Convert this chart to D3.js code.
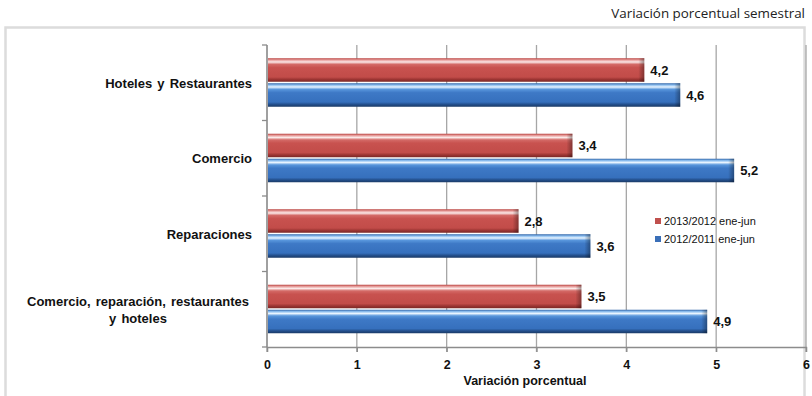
<!DOCTYPE html>
<html>
<head>
<meta charset="utf-8">
<script src="https://cdn.jsdelivr.net/npm/d3@7"></script>
<style>
  html, body { margin: 0; padding: 0; background: #fff; }
  svg { display: block; }
</style>
</head>
<body>
<svg id="chart" width="812" height="396"></svg>
<script>
// Sector categories, top to bottom
const categories = [
  ["Hoteles y Restaurantes"],
  ["Comercio"],
  ["Reparaciones"],
  ["Comercio, reparación, restaurantes", "y hoteles"]
];
const seriesNames = ["2013/2012 ene-jun", "2012/2011 ene-jun"];
const values2013 = [4.2, 3.4, 2.8, 3.5];
const values2012 = [4.6, 5.2, 3.6, 4.9];
const xTicks = [0, 1, 2, 3, 4, 5, 6];

const svg = d3.select("#chart");
const margin = { left: 267, right: 6, top: 45, bottom: 49 };
const W = 812, H = 396;
const FONT = "Arial, 'Liberation Sans', sans-serif";

// Outer frame
svg.append("rect")
  .attr("x", 5.5).attr("y", 27.5).attr("width", 799).attr("height", 380)
  .attr("fill", "none").attr("stroke", "#dcdcdc").attr("stroke-width", 2.5);

svg.append("text")
  .attr("x", 805).attr("y", 18)
  .attr("text-anchor", "end")
  .attr("font-family", "'Open Sans', sans-serif")
  .attr("font-size", 13.4).attr("fill", "#222")
  .text("Variación porcentual semestral");

const x = d3.scaleLinear().domain([0, 6]).range([margin.left, W - margin.right]);
const y = d3.scaleBand().domain(d3.range(categories.length))
  .range([margin.top, H - margin.bottom]).paddingInner(0).paddingOuter(0);

// Gradients giving the bars their bevelled look
const defs = svg.append("defs");
function grad(id, stops) {
  const g = defs.append("linearGradient").attr("id", id)
    .attr("x1", 0).attr("y1", 0).attr("x2", 0).attr("y2", 1);
  stops.forEach(([o, c]) => g.append("stop").attr("offset", o).attr("stop-color", c));
}
grad("gRed", [[0, "#b9413e"], [0.08, "#e9a3a1"], [0.16, "#fbe9e8"], [0.26, "#d46a67"], [0.4, "#c8524f"], [0.8, "#c24c49"], [0.9, "#9c3533"], [1, "#7a2725"]]);
grad("gBlue", [[0, "#2f64a8"], [0.08, "#8fc0f0"], [0.16, "#e8f4ff"], [0.26, "#5896dc"], [0.4, "#3e79c6"], [0.8, "#3670bd"], [0.9, "#234f8c"], [1, "#1a3a66"]]);
const endGrad = defs.append("linearGradient").attr("id", "gEnd")
  .attr("x1", 0).attr("y1", 0).attr("x2", 1).attr("y2", 0);
endGrad.append("stop").attr("offset", 0).attr("stop-color", "#000").attr("stop-opacity", 0);
endGrad.append("stop").attr("offset", 1).attr("stop-color", "#000").attr("stop-opacity", 0.35);

// Vertical gridlines
svg.append("g").selectAll("line").data(xTicks).join("line")
  .attr("x1", d => x(d)).attr("x2", d => x(d))
  .attr("y1", margin.top).attr("y2", H - margin.bottom + 5)
  .attr("stroke", "#a6a6a6").attr("stroke-width", 1.3);

// Category axis with tick marks between bands
const yAxisG = svg.append("g");
yAxisG.append("line")
  .attr("x1", x(0)).attr("x2", x(0))
  .attr("y1", margin.top).attr("y2", H - margin.bottom)
  .attr("stroke", "#8c8c8c").attr("stroke-width", 1.3);
yAxisG.selectAll("line.tk").data(d3.range(categories.length + 1)).join("line")
  .attr("class", "tk")
  .attr("x1", x(0) - 5).attr("x2", x(0))
  .attr("y1", d => margin.top + d * y.bandwidth())
  .attr("y2", d => margin.top + d * y.bandwidth())
  .attr("stroke", "#8c8c8c").attr("stroke-width", 1.3);

// Value axis
const xAxis = d3.axisBottom(x).tickValues(xTicks).tickSize(5).tickFormat(d3.format("d"));
const xg = svg.append("g").attr("transform", `translate(0,${H - margin.bottom})`).call(xAxis);
xg.select(".domain").attr("stroke", "#8c8c8c").attr("stroke-width", 1.3);
xg.selectAll(".tick line").attr("stroke", "#8c8c8c").attr("stroke-width", 1.3);
xg.selectAll(".tick text")
  .attr("font-family", FONT)
  .attr("font-weight", "bold").attr("font-size", 12.5).attr("fill", "#111")
  .attr("dy", "1.1em");

svg.append("text")
  .attr("x", 525).attr("y", 385)
  .attr("text-anchor", "middle")
  .attr("font-family", FONT)
  .attr("font-weight", "bold").attr("font-size", 12.5).attr("fill", "#111")
  .text("Variación porcentual");

// Bars
const barH = 24.5;
const pad = (y.bandwidth() - 2 * barH) / 2;
const series = [
  { vals: values2013, fill: "url(#gRed)", offset: 0 },
  { vals: values2012, fill: "url(#gBlue)", offset: barH + 0.5 }
];
series.forEach(s => {
  const g = svg.append("g");
  s.vals.forEach((v, i) => {
    const top = y(i) + pad + s.offset;
    const bh = barH - 1;
    g.append("rect")
      .attr("x", x(0) + 1).attr("y", top)
      .attr("width", x(v) - x(0) - 1).attr("height", bh)
      .attr("fill", s.fill);
    g.append("rect")
      .attr("x", x(v) - 6).attr("y", top)
      .attr("width", 6).attr("height", bh)
      .attr("fill", "url(#gEnd)");
    g.append("text")
      .attr("x", x(v) + 6).attr("y", top + bh / 2 + 4.5)
      .attr("font-family", FONT)
      .attr("font-weight", "bold").attr("font-size", 13).attr("fill", "#111")
      .text(d3.format(".1f")(v).replace(".", ","));
  });
});

// Category labels
categories.forEach((lines, i) => {
  const cy = y(i) + y.bandwidth() / 2;
  const lh = 17;
  const t = svg.append("text")
    .attr("font-family", FONT)
    .attr("font-weight", "bold").attr("font-size", 13).attr("fill", "#111")
    .attr("word-spacing", 1.5)
    .attr("text-anchor", lines.length > 1 ? "middle" : "end");
  const ax = lines.length > 1 ? 138 : 252;
  lines.forEach((ln, k) => {
    t.append("tspan")
      .attr("x", ax)
      .attr("y", cy + 5 + (k - (lines.length - 1) / 2) * lh)
      .text(ln);
  });
});

// Legend
const legend = svg.append("g").attr("transform", "translate(655,222)");
const legendColors = ["#c0504d", "#3a6fb8"];
seriesNames.forEach((n, i) => {
  legend.append("rect")
    .attr("x", 0).attr("y", i * 18 - 4).attr("width", 6).attr("height", 6)
    .attr("fill", legendColors[i]);
  legend.append("text")
    .attr("x", 9).attr("y", i * 18 + 3)
    .attr("font-family", FONT)
    .attr("font-size", 11).attr("fill", "#111")
    .text(n);
});
</script>
</body>
</html>
